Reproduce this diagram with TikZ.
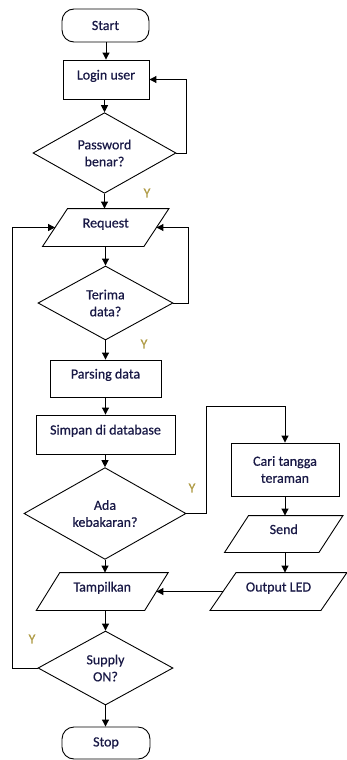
\documentclass[tikz,border=0pt]{standalone}
\usepackage{fontspec}
\setmainfont[FakeBold=0.6,BoldFont=Carlito,BoldFeatures={FakeBold=0.6}]{Carlito}
\usetikzlibrary{arrows.meta,shapes.geometric,calc}
\definecolor{txt}{RGB}{25,25,70}
\definecolor{ylab}{RGB}{175,155,70}
\newcommand\paraline[2]{\draw[line width=0.9pt] ($(#1.north west)+(#2,0)$) -- ($(#1.north east)+(#2,0)$) -- ($(#1.south east)+(-#2,0)$) -- ($(#1.south west)+(-#2,0)$) -- cycle;}
\begin{document}
\begin{tikzpicture}[x=1pt,y=-1pt,
  base/.style={draw=black, line width=0.9pt, text=txt, font=\fontsize{14}{17}\selectfont\bfseries, align=center, inner sep=0pt},
  term/.style={base, rounded corners=12pt},
  rectbox/.style={base},
  iotext/.style={base, draw=none},
  dec/.style={base, diamond},
  single/.style={text height=10pt, text depth=10pt},
  conn/.style={line width=1pt, -{Triangle[length=7pt,width=7pt]}},
  yl/.style={text=ylab, font=\fontsize{14}{14}\selectfont, inner sep=0pt}
]
\useasboundingbox (0,0) rectangle (346,760);

\node[term, minimum width=87, minimum height=33] (start) at (105.5,25.5) {Start};
\node[rectbox, single, minimum width=86, minimum height=39] (login) at (106,79.5) {Login user};
\node[dec, minimum width=143, minimum height=72] (pw) at (104.5,153) {Password\\benar?};
\node[iotext, single, minimum width=100.5, minimum height=37] (req) at (105.75,227.5) {Request};
\paraline{req}{12.5}
\node[dec, minimum width=135, minimum height=74] (ter) at (105.5,303) {Terima\\data?};
\node[rectbox, single, minimum width=111, minimum height=37] (pars) at (105.5,378.5) {Parsing data};
\node[rectbox, single, minimum width=139, minimum height=39] (simp) at (105.5,434.5) {Simpan di database};
\node[dec, minimum width=162, minimum height=81] (ada) at (105,513.5) {Ada\\kebakaran?};
\node[rectbox, minimum width=108, minimum height=53] (cari) at (285,469.5) {Cari tangga\\teraman};
\node[iotext, single, minimum width=93.5, minimum height=36] (send) at (283.75,534) {Send};
\paraline{send}{12}
\node[iotext, single, minimum width=110, minimum height=37] (out) at (278.5,591.5) {Output LED};
\paraline{out}{13}
\node[iotext, single, minimum width=107.5, minimum height=37] (tamp) at (102.25,591.5) {Tampilkan};
\paraline{tamp}{11.75}
\node[dec, minimum width=135, minimum height=74] (sup) at (105.5,668) {Supply\\ON?};
\node[term, minimum width=88, minimum height=32] (stop) at (106,743) {Stop};

\node[yl] (y1) at (147,193) {Y};
\node[yl] (y2) at (144,344) {Y};
\node[yl] (y3) at (192,488) {Y};
\node[yl] (y4) at (32,639) {Y};

\draw[conn] (start.south -| login.north) -- (login.north);
\draw[conn] (login.south -| pw.north) -- (pw.north);
\draw[conn] (pw.east) -- ++(10,0) |- (login.east);
\draw[conn] (pw.south) -- (pw.south |- req.north);
\draw[conn] (ter.north |- req.south) -- (ter.north);
\draw[conn] (ter.east) -- ++(15,0) |- (req.east);
\draw[conn] (ter.south) -- (ter.south |- pars.north);
\draw[conn] (simp.north |- pars.south) -- (simp.north);
\draw[conn] (ada.north |- simp.south) -- (ada.north);
\draw[conn] (ada.east) -- ++(20,0) |- ($(cari.north)+(0,-36)$) -- (cari.north);
\draw[conn] (cari.south) -- (cari.south |- send.north);
\draw[conn] (cari.south |- send.south) -- (cari.south |- out.north);
\draw[conn] (out.west) -- (tamp.east);
\draw[conn] (ada.south) -- (ada.south |- tamp.north);
\draw[conn] (sup.north |- tamp.south) -- (sup.north);
\draw[conn] (sup.west) -- ++(-25,0) |- (req.west);
\draw[conn] (sup.south) -- (sup.south |- stop.north);
\end{tikzpicture}
\end{document}
